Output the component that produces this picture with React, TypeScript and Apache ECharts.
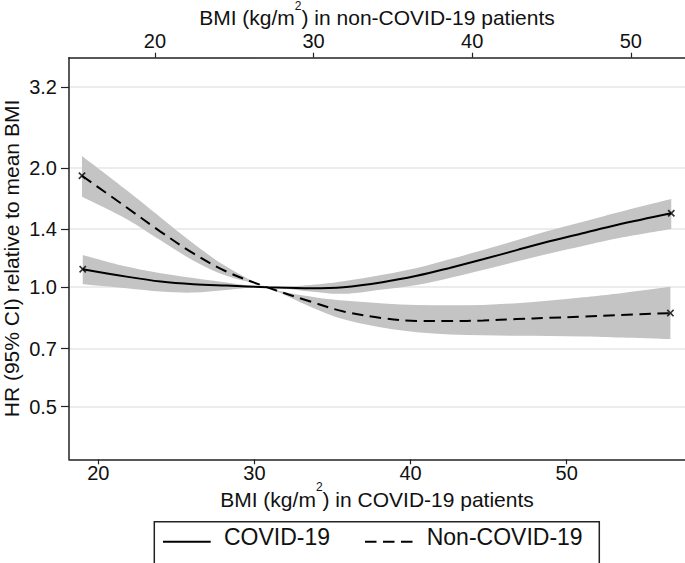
import React, { useEffect, useRef } from "react";
import * as echarts from "echarts";

const FONT = '"Liberation Sans", Arial, Helvetica, sans-serif';
const INK = "#111";
const AXIS = "#222";
const BAND = "#c4c4c4";
const GRID = "#e6e6e6";

// COVID-19 patients (bottom axis)
const covidBmi = [19.0, 21.8, 24.0, 26.1, 28.2, 30.8, 33.6, 35.7, 38.2, 40.4, 42.5, 44.7, 46.8, 48.9, 51.1, 53.2, 56.7];
const covidHr = [1.11, 1.063, 1.033, 1.017, 1.009, 1.0, 0.994, 1.0, 1.029, 1.068, 1.118, 1.177, 1.24, 1.305, 1.37, 1.435, 1.536];
const covidLo = [1.017, 0.994, 0.975, 0.969, 0.984, 1.0, 0.975, 0.962, 0.987, 1.013, 1.055, 1.106, 1.161, 1.216, 1.272, 1.327, 1.402];
const covidHi = [1.206, 1.127, 1.084, 1.054, 1.027, 1.0, 1.013, 1.035, 1.074, 1.117, 1.175, 1.242, 1.313, 1.389, 1.464, 1.541, 1.669];

// Non-COVID-19 patients (top axis)
const nonCovidBmi = [15.4, 18.2, 20.3, 22.4, 24.5, 27.05, 29.8, 31.9, 34.4, 36.5, 38.6, 40.7, 42.8, 44.9, 47.0, 49.1, 52.5];
const nonCovidHr = [1.91, 1.59, 1.385, 1.218, 1.095, 1.0, 0.92, 0.868, 0.835, 0.822, 0.821, 0.824, 0.831, 0.837, 0.843, 0.85, 0.86];
const nonCovidLo = [1.69, 1.486, 1.316, 1.168, 1.068, 1.0, 0.893, 0.83, 0.79, 0.77, 0.76, 0.756, 0.754, 0.753, 0.751, 0.747, 0.74];
const nonCovidHi = [2.142, 1.758, 1.506, 1.291, 1.127, 1.0, 0.947, 0.925, 0.91, 0.902, 0.9, 0.902, 0.911, 0.925, 0.943, 0.963, 1.003];

const yTicks = [0.5, 0.7, 1.0, 1.4, 2.0, 3.2];
const xTicks = [20, 30, 40, 50];

const legendLabels = ["COVID-19", "Non-COVID-19"];
const bottomTitle = "{a|BMI (kg/m}{s|2}{a|) in COVID-19 patients}";
const topTitle = "{a|BMI (kg/m}{s|2}{a|) in non-COVID-19 patients}";
const yTitle = "HR (95% CI) relative to mean BMI";

const DASH = [11.5, 6.5];
const CROSS =
  "path://M0,1.6 L1.6,0 L5,3.4 L8.4,0 L10,1.6 L6.6,5 L10,8.4 L8.4,10 L5,6.6 L1.6,10 L0,8.4 L3.4,5 Z";

function f(n: number) {
  return n.toFixed(2);
}

function curveThrough(pts: number[][], start: string) {
  let d = `${start}${f(pts[0][0])},${f(pts[0][1])}`;
  for (let i = 0; i < pts.length - 1; i++) {
    const p0 = pts[Math.max(i - 1, 0)];
    const p1 = pts[i];
    const p2 = pts[i + 1];
    const p3 = pts[Math.min(i + 2, pts.length - 1)];
    const c1 = [p1[0] + (p2[0] - p0[0]) / 6, p1[1] + (p2[1] - p0[1]) / 6];
    const c2 = [p2[0] - (p3[0] - p1[0]) / 6, p2[1] - (p3[1] - p1[1]) / 6];
    d += ` C${f(c1[0])},${f(c1[1])} ${f(c2[0])},${f(c2[1])} ${f(p2[0])},${f(p2[1])}`;
  }
  return d;
}

function bandSeries(xs: number[], lo: number[], hi: number[], xAxisIndex: number) {
  return {
    type: "custom",
    xAxisIndex,
    yAxisIndex: 0,
    silent: true,
    z: 1,
    data: xs.map((x, i) => [x, lo[i], hi[i]]),
    encode: { x: 0, y: [1, 2] },
    renderItem: (params: any, api: any) => {
      if (params.dataIndex !== 0) return null;
      const up = xs.map((x, i) => api.coord([x, hi[i]]));
      const dn = xs.map((x, i) => api.coord([x, lo[i]])).reverse();
      const d = curveThrough(up, "M") + " " + curveThrough(dn, "L") + " Z";
      return {
        type: "path",
        shape: { pathData: d },
        style: { fill: BAND, stroke: "none" },
      };
    },
  };
}

function endMarks(xs: number[], ys: number[], xAxisIndex: number) {
  const n = xs.length - 1;
  return {
    type: "scatter",
    xAxisIndex,
    yAxisIndex: 0,
    silent: true,
    z: 4,
    symbol: CROSS,
    symbolSize: 7.5,
    itemStyle: { color: "#000" },
    data: [
      [xs[0], ys[0]],
      [xs[n], ys[n]],
    ],
  };
}

const titleRich = {
  a: { fontSize: 21, lineHeight: 36, fontFamily: FONT, color: INK },
  s: { fontSize: 12, lineHeight: 13, verticalAlign: "top", fontFamily: FONT, color: INK },
};

const option: any = {
  animation: false,
  backgroundColor: "#fff",
  grid: { left: 69, right: 0, top: 57.7, bottom: 103.7, containLabel: false, outerBoundsMode: "none" },
  xAxis: [
    {
      type: "value",
      position: "bottom",
      min: 18.12,
      max: 57.58,
      name: bottomTitle,
      nameLocation: "middle",
      nameGap: 22,
      nameMoveOverlap: false,
      nameTextStyle: { rich: titleRich },
      axisLine: { show: true, onZero: false, lineStyle: { color: AXIS, width: 1.5 } },
      axisTick: { show: true, customValues: xTicks, length: 5, lineStyle: { color: AXIS, width: 1.2 } },
      axisLabel: { customValues: xTicks, margin: 4, fontSize: 20, fontFamily: FONT, color: INK },
      splitLine: { show: false },
    },
    {
      type: "value",
      position: "top",
      min: 14.58,
      max: 53.42,
      name: topTitle,
      nameLocation: "middle",
      nameGap: 22,
      nameMoveOverlap: false,
      nameTextStyle: { rich: titleRich },
      axisLine: { show: true, onZero: false, lineStyle: { color: AXIS, width: 1.5 } },
      axisTick: { show: true, customValues: xTicks, length: 5, lineStyle: { color: AXIS, width: 1.2 } },
      axisLabel: { customValues: xTicks, margin: 6.5, fontSize: 20, fontFamily: FONT, color: INK },
      splitLine: { show: false },
    },
  ],
  yAxis: [
    {
      type: "log",
      logBase: 10,
      min: 0.368,
      max: 3.79,
      name: yTitle,
      nameLocation: "middle",
      nameGap: 47,
      nameMoveOverlap: false,
      nameTextStyle: { fontSize: 21, lineHeight: 21, fontFamily: FONT, color: INK },
      axisLine: { show: true, lineStyle: { color: AXIS, width: 1.5 } },
      axisTick: { show: true, customValues: yTicks, length: 8, lineStyle: { color: AXIS, width: 1.2 } },
      axisLabel: {
        customValues: yTicks,
        margin: 12,
        fontSize: 20,
        fontFamily: FONT,
        color: INK,
        formatter: (v: number) => Number(v).toFixed(1),
      },
      splitLine: { show: true, lineStyle: { color: GRID, width: 1.5 } },
    },
  ],
  series: [
    bandSeries(covidBmi, covidLo, covidHi, 0),
    bandSeries(nonCovidBmi, nonCovidLo, nonCovidHi, 1),
    {
      type: "line",
      name: legendLabels[0],
      xAxisIndex: 0,
      yAxisIndex: 0,
      z: 3,
      smooth: 0.35,
      showSymbol: false,
      silent: true,
      lineStyle: { color: "#000", width: 2 },
      data: covidBmi.map((x, i) => [x, covidHr[i]]),
    },
    {
      type: "line",
      name: legendLabels[1],
      xAxisIndex: 1,
      yAxisIndex: 0,
      z: 3,
      smooth: 0.35,
      showSymbol: false,
      silent: true,
      lineStyle: { color: "#000", width: 2, type: DASH },
      data: nonCovidBmi.map((x, i) => [x, nonCovidHr[i]]),
    },
    endMarks(covidBmi, covidHr, 0),
    endMarks(nonCovidBmi, nonCovidHr, 1),
  ],
  graphic: [
    {
      type: "rect",
      shape: { x: 154.3, y: 521.7, width: 445, height: 70 },
      style: { fill: "#fff", stroke: AXIS, lineWidth: 1.5 },
      silent: true,
    },
    {
      type: "line",
      shape: { x1: 163, y1: 541.7, x2: 210.7, y2: 541.7 },
      style: { stroke: "#000", lineWidth: 2 },
      silent: true,
    },
    {
      type: "text",
      style: { text: legendLabels[0], x: 224, y: 536.5, fontSize: 23, fontFamily: FONT, fill: INK, verticalAlign: "middle", align: "left" },
      silent: true,
    },
    {
      type: "line",
      shape: { x1: 365, y1: 541.7, x2: 413.3, y2: 541.7 },
      style: { stroke: "#000", lineWidth: 2, lineDash: DASH },
      silent: true,
    },
    {
      type: "text",
      style: { text: legendLabels[1], x: 426.7, y: 536.5, fontSize: 23, fontFamily: FONT, fill: INK, verticalAlign: "middle", align: "left" },
      silent: true,
    },
  ],
};

export default function App() {
  const ref = useRef<HTMLDivElement>(null);
  useEffect(() => {
    const chart = echarts.init(ref.current!, null, { renderer: "svg" });
    chart.setOption(option);
    return () => chart.dispose();
  }, []);
  return (
    <div
      ref={ref}
      style={{ position: "absolute", left: 0, top: 0, width: 685, height: 563, background: "#fff" }}
    />
  );
}
